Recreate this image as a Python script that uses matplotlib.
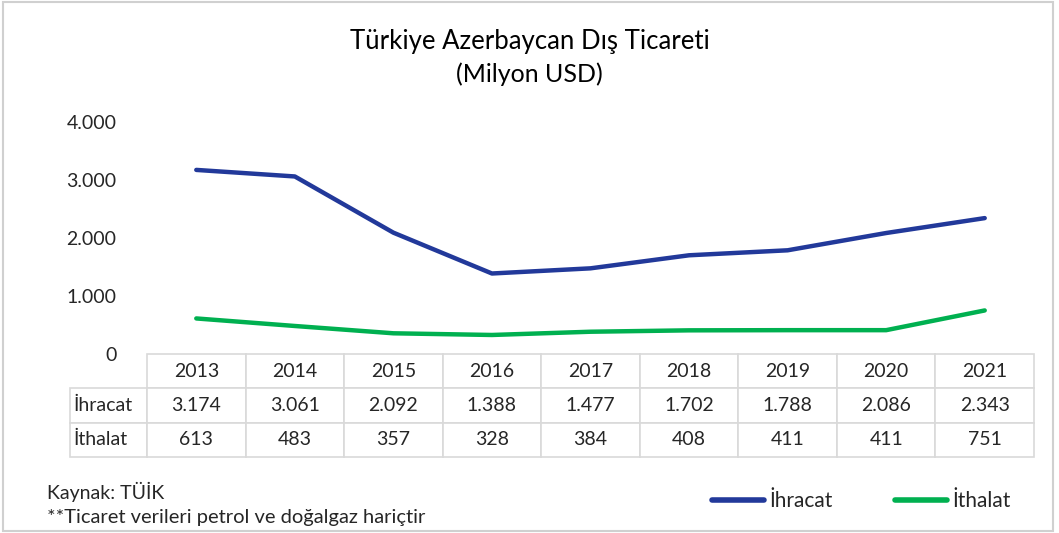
import matplotlib
matplotlib.use("Agg")
import matplotlib.pyplot as plt
from matplotlib.patches import Rectangle
from matplotlib.lines import Line2D
from matplotlib.ticker import FuncFormatter

years = ["2013", "2014", "2015", "2016", "2017", "2018", "2019", "2020", "2021"]
ihracat = [3174, 3061, 2092, 1388, 1477, 1702, 1788, 2086, 2343]
ithalat = [613, 483, 357, 328, 384, 408, 411, 411, 751]
series_names = ["İhracat", "İthalat"]
title = "Türkiye Azerbaycan Dış Ticareti"
subtitle = "(Milyon USD)"
source_lines = ["Kaynak: TÜİK", "**Ticaret verileri petrol ve doğalgaz hariçtir"]

plt.rcParams['font.family'] = ['Lato', 'DejaVu Sans']
txt = '#262626'
blue = '#22399A'
green = '#00B050'
grid_c = '#D9D9D9'

W, H = 1059, 533
fig = plt.figure(figsize=(W / 100, H / 100), dpi=100)

def fx(px):
    return px / W

def fy(py):
    return 1 - py / H

# outer border
fig.patches.append(Rectangle((fx(3), fy(531)), fx(1053) - fx(3), fy(2) - fy(531),
                             transform=fig.transFigure, fill=False,
                             edgecolor='#D0D0D0', linewidth=1.5))

ax_left, ax_right = 147, 1034
ax_top, ax_bot = 122, 354
ax = fig.add_axes([fx(ax_left), fy(ax_bot), fx(ax_right) - fx(ax_left), fy(ax_top) - fy(ax_bot)])

x = list(range(len(years)))
ax.plot(x, ihracat, color=blue, linewidth=3.2, solid_capstyle='round', zorder=3)
ax.plot(x, ithalat, color=green, linewidth=3.2, solid_capstyle='round', zorder=3)
ax.set_xlim(-0.5, len(years) - 0.5)
ax.set_ylim(0, 4000)
ax.set_yticks([0, 1000, 2000, 3000, 4000])
ax.yaxis.set_major_formatter(FuncFormatter(lambda v, p: f"{int(v):,}".replace(",", ".")))
ax.tick_params(axis='y', length=0, pad=22, labelsize=14, labelcolor=txt)
ax.set_xticks([])
for s in ax.spines.values():
    s.set_visible(False)

# data table
label_w = ax_right - ax_left
col_w = label_w / len(years)
row_lab_w = ax_left - 70
cell_text = [[""] + years,
             [series_names[0]] + [f"{v:,}".replace(",", ".") for v in ihracat],
             [series_names[1]] + [f"{v:,}".replace(",", ".") for v in ithalat]]
tab_h = (457 - 354) / (ax_bot - ax_top)
tbl = ax.table(cellText=cell_text,
               colWidths=[row_lab_w / label_w] + [col_w / label_w] * len(years),
               bbox=[-row_lab_w / label_w, -tab_h, 1 + row_lab_w / label_w, tab_h],
               cellLoc='center')
tbl.auto_set_font_size(False)
for (r, c), cell in tbl.get_celld().items():
    cell.set_edgecolor(grid_c)
    cell.set_linewidth(1.2)
    cell.get_text().set_fontsize(14)
    cell.get_text().set_color(txt)
    if c == 0:
        cell.get_text().set_ha('left')
        cell.PAD = 0.05
    if r == 0 and c == 0:
        cell.visible_edges = ''

fig.text(0.5, fy(42), title, ha='center', va='center', fontsize=18.5, color='#000000')
fig.text(0.5, fy(74), subtitle, ha='center', va='center', fontsize=18, color='#000000')

fig.text(fx(47), fy(492), source_lines[0], ha='left', va='center', fontsize=14, color=txt)
fig.text(fx(47), fy(517), source_lines[1], ha='left', va='center', fontsize=14.5, color=txt)

handles = [Line2D([], [], color=blue, linewidth=4, solid_capstyle='round'),
           Line2D([], [], color=green, linewidth=4, solid_capstyle='round')]
fig.legend(handles, series_names, loc='center left', bbox_to_anchor=(fx(712), fy(501)),
           ncol=2, frameon=False, fontsize=15, handlelength=2.5, handletextpad=0.25,
           columnspacing=3.0, labelcolor=txt, borderaxespad=0, borderpad=0)

fig.savefig("out.png", dpi=100)
